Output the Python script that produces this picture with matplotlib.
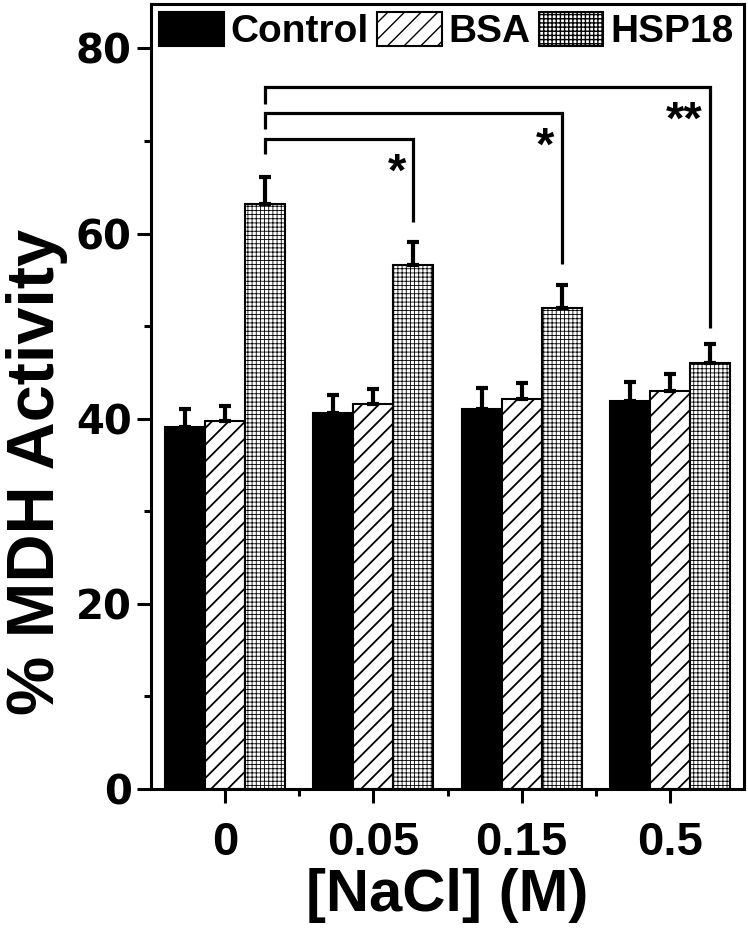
import numpy as np
import matplotlib
matplotlib.use("Agg")
from matplotlib import pyplot as plt

# ------------------------------------------------------------------
# Datos
# ------------------------------------------------------------------
nacl = ["0", "0.05", "0.15", "0.5"]
series = ["Control", "BSA", "HSP18"]

control = [39.1, 40.6, 41.1, 41.9]
control_err = [1.9, 2.0, 2.2, 2.1]
bsa = [39.8, 41.6, 42.1, 43.0]
bsa_err = [1.6, 1.6, 1.8, 1.8]
hsp18 = [63.2, 56.6, 52.0, 46.0]
hsp18_err = [2.9, 2.5, 2.4, 2.1]

# corchetes de significancia: HSP18 a 0 M frente a HSP18 a cada NaCl
bracket_to = [1, 2, 3]
bracket_top = [70.2, 73.0, 75.8]
bracket_left_end = [68.6, 71.3, 74.0]
bracket_right_end = [61.2, 56.7, 49.8]
bracket_label = ["*", "*", "**"]

plt.rcParams["font.family"] = "Liberation Sans"
plt.rcParams["font.weight"] = "bold"

fig = plt.figure(figsize=(7.48, 9.3), dpi=100)
ax = fig.add_axes([0.2019, 0.1516, 0.7928, 0.8441])

x = np.arange(len(nacl))
w = 0.27
err_kw = dict(lw=3, capsize=4.5, capthick=3, ecolor="black")


def barras(pos, vals, errs, color, hatch, hlw, label):
    with plt.rc_context({"hatch.linewidth": hlw}):
        b = ax.bar(pos, vals, w, color=color, edgecolor="black", lw=1.5, hatch=hatch,
                   yerr=[np.zeros(len(vals)), errs], error_kw=err_kw, label=label)
    for p in b.patches:
        if hasattr(p, "set_hatch_linewidth"):
            p.set_hatch_linewidth(hlw)
    return b


barras(x - w, control, control_err, "black", None, 1.0, series[0])
barras(x, bsa, bsa_err, "white", "//", 1.3, series[1])
barras(x + w, hsp18, hsp18_err, "white", "++++", 0.6, series[2])

# corchetes
x0 = x[0] + w
for j, top, lend, rend, lab in zip(bracket_to, bracket_top, bracket_left_end,
                                   bracket_right_end, bracket_label):
    x1 = x[j] + w
    ax.plot([x0, x0, x1, x1], [lend, top, top, rend], color="black", lw=2.3,
            solid_joinstyle="miter", solid_capstyle="butt")
    dx = -0.11 if len(lab) == 1 else -0.17
    ax.text(x1 + dx, top - 5.0, lab, ha="center", va="baseline",
            fontsize=34, fontweight="bold", color="black")

ax.set_xlim(-0.5, 3.5)
ax.set_ylim(0, 84.8)
ax.set_xticks(x)
ax.set_xticklabels(nacl, fontsize=34, fontweight="bold")
ax.set_xticks(x[:-1] + 0.5, minor=True)
ax.set_yticks([0, 20, 40, 60, 80])
ax.set_yticklabels(["0", "20", "40", "60", "80"], family="DejaVu Sans",
                   fontsize=29, fontweight="bold")
ax.set_yticks([10, 30, 50, 70], minor=True)

ax.tick_params(axis="both", which="major", direction="out", length=10, width=2.2, pad=4)
ax.tick_params(axis="both", which="minor", direction="out", length=5, width=2.2)
ax.tick_params(axis="x", which="major", pad=13)
for s in ax.spines.values():
    s.set_linewidth(2.2)

ax.set_xlabel("[NaCl] (M)", fontsize=43, fontweight="bold", labelpad=2)
ax.set_ylabel("% MDH Activity", fontsize=48, fontweight="bold")
ax.yaxis.set_label_coords(-0.14, 0.404)

ax.legend(loc="upper left", bbox_to_anchor=(0.013, 0.99), ncol=3, frameon=False,
          prop=dict(size=28, weight="bold"),
          handlelength=1.67, handleheight=0.97, handletextpad=0.18,
          columnspacing=0.2, borderpad=0, borderaxespad=0)

fig.savefig("out.png", dpi=100)
